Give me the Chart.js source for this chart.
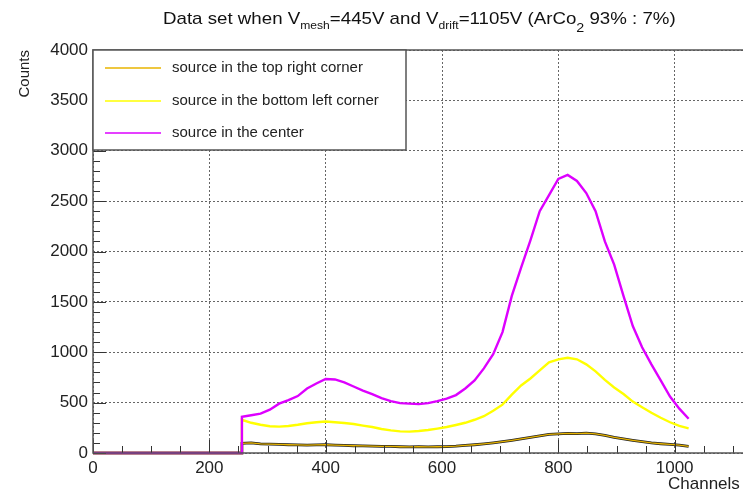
<!DOCTYPE html>
<html>
<head>
<meta charset="utf-8">
<script src="https://cdn.jsdelivr.net/npm/chart.js@4.4.0/dist/chart.umd.min.js"></script>
<style>
html, body { margin: 0; padding: 0; background: #fff; overflow: hidden; }
#wrap { position: relative; width: 743px; height: 492px; overflow: hidden; }
#title { position: absolute; top: 9px; left: 163px; font: 17px "Liberation Sans", Arial, sans-serif; color: #111; white-space: nowrap; transform: scaleX(1.1); transform-origin: left top; }
#title sub { font-size: 11px; vertical-align: -5px; }
#title sub.low { font-size: 13px; vertical-align: -8px; }
canvas { position: absolute; left: 0; top: 0; }
</style>
</head>
<body>
<div id="wrap">
  <canvas id="spectrum" width="820" height="492"></canvas>
  <div id="title">Data set when V<sub>mesh</sub>=445V and V<sub>drift</sub>=1105V (ArCo<sub class="low">2</sub> 93% : 7%)</div>
</div>
<script>
// Histogram channels (read every 16 channels, empty below 256)
const channels = [0, 255, 256, 272, 288, 304, 320, 336, 352, 368, 384, 400, 416, 432, 448, 464, 480, 496,
  512, 528, 544, 560, 576, 592, 608, 624, 640, 656, 672, 688, 704, 720, 736, 752, 768, 784, 800,
  816, 832, 848, 864, 880, 896, 912, 928, 944, 960, 976, 992, 1008, 1024];

const topRight = [0, 0, 95, 100, 90, 88, 85, 82, 80, 78, 80, 82, 78, 75, 72, 70, 68, 65,
  65, 62, 60, 62, 60, 62, 64, 68, 75, 82, 90, 100, 112, 125, 140, 155, 170, 185, 190,
  195, 192, 198, 190, 175, 155, 140, 125, 112, 100, 92, 85, 78, 65];

const bottomLeft = [0, 0, 330, 300, 280, 265, 262, 268, 280, 295, 305, 312, 305, 298, 288, 272, 258, 238,
  225, 215, 212, 218, 228, 242, 258, 278, 300, 330, 365, 420, 480, 580, 670, 740, 820, 900, 930,
  945, 930, 880, 810, 725, 650, 585, 510, 455, 400, 350, 305, 270, 245];

const center = [0, 0, 360, 375, 390, 430, 490, 525, 565, 640, 690, 735, 730, 700, 660, 620, 585, 545,
  515, 495, 490, 485, 495, 515, 540, 575, 640, 720, 840, 980, 1200, 1560, 1840, 2110, 2400, 2560, 2720,
  2760, 2700, 2580, 2400, 2100, 1870, 1560, 1260, 1050, 880, 720, 560, 440, 340];

const labels = ['source in the top right corner', 'source in the bottom left corner', 'source in the center'];
const colors = ['#e8b400', '#ffff00', '#dd00ff'];

const xTicks = { min: 0, max: 1200, major: 200, minor: 50 };
const yTicks = { min: 0, max: 4000, major: 500, minor: 100 };

function pts(vals) {
  return channels.map((c, i) => ({ x: c, y: vals[i] }));
}

const FONT = '"Liberation Sans", Arial, sans-serif';

// ROOT-like frame, inward ticks, legend box and axis titles
const rootFrame = {
  id: 'rootFrame',
  afterDatasetsDraw(chart) {
    const { ctx, chartArea: a, scales: { x, y } } = chart;
    ctx.save();

    ctx.strokeStyle = '#333';
    ctx.lineWidth = 1;
    ctx.beginPath();
    for (let v = yTicks.min; v <= yTicks.max; v += yTicks.minor) {
      const py = Math.round(y.getPixelForValue(v)) + 0.5;
      const len = v % yTicks.major === 0 ? 13 : 7;
      ctx.moveTo(a.left, py);
      ctx.lineTo(a.left + len, py);
    }
    for (let v = xTicks.min; v <= xTicks.max; v += xTicks.minor) {
      const px = Math.round(x.getPixelForValue(v)) + 0.5;
      const len = v % xTicks.major === 0 ? 13 : 7;
      ctx.moveTo(px, a.bottom);
      ctx.lineTo(px, a.bottom - len);
    }
    ctx.stroke();

    ctx.strokeStyle = '#555';
    ctx.lineWidth = 1.5;
    ctx.strokeRect(a.left, a.top, a.right - a.left, a.bottom - a.top);

    // legend
    const lx = a.left, ly = a.top, lw = 313, lh = 100;
    ctx.fillStyle = '#fff';
    ctx.fillRect(lx, ly, lw, lh);
    ctx.strokeRect(lx, ly, lw, lh);
    ctx.font = '15px ' + FONT;
    ctx.textBaseline = 'middle';
    labels.forEach((lab, i) => {
      const yy = Math.round(ly + 18 + i * 32.5);
      ctx.strokeStyle = colors[i];
      ctx.lineWidth = 1.5;
      ctx.beginPath();
      ctx.moveTo(lx + 12, yy);
      ctx.lineTo(lx + 68, yy);
      ctx.stroke();
      ctx.fillStyle = '#222';
      ctx.fillText(lab, lx + 79, yy);
    });

    // axis titles
    ctx.fillStyle = '#222';
    ctx.font = '15px ' + FONT;
    ctx.save();
    ctx.translate(25, a.top);
    ctx.rotate(-Math.PI / 2);
    ctx.textAlign = 'right';
    ctx.textBaseline = 'middle';
    ctx.fillText('Counts', 0, 0);
    ctx.restore();

    ctx.font = '17px ' + FONT;
    ctx.textAlign = 'left';
    ctx.textBaseline = 'alphabetic';
    ctx.fillText('Channels', 668, 489);

    ctx.restore();
  }
};

const common = { pointRadius: 0, tension: 0, fill: false, clip: 3 };

new Chart(document.getElementById('spectrum'), {
  type: 'line',
  data: {
    datasets: [
      { ...common, label: labels[0], data: pts(topRight), borderColor: colors[0], borderWidth: 1.3, order: 2 },
      { ...common, label: '', data: pts(topRight), borderColor: '#222', borderWidth: 2.8, order: 3 },
      { ...common, label: labels[1], data: pts(bottomLeft), borderColor: colors[1], borderWidth: 2.4, order: 1 },
      { ...common, label: labels[2], data: pts(center), borderColor: colors[2], borderWidth: 2.4, order: 0 }
    ]
  },
  options: {
    responsive: false,
    animation: false,
    devicePixelRatio: 1,
    layout: { padding: { top: 50, right: 29, left: 0, bottom: 0 } },
    plugins: { legend: { display: false }, tooltip: { enabled: false }, title: { display: false } },
    scales: {
      x: {
        type: 'linear',
        min: xTicks.min,
        max: xTicks.max,
        afterFit: s => { s.height = 39; },
        ticks: { stepSize: xTicks.major, padding: 5, color: '#222', font: { family: FONT, size: 17 }, callback: v => String(v) },
        grid: { color: '#666', drawTicks: false, lineWidth: 1 },
        border: { display: false, dash: [2, 2] }
      },
      y: {
        min: yTicks.min,
        max: yTicks.max,
        afterFit: s => { s.width = 93; },
        ticks: { stepSize: yTicks.major, padding: 5, color: '#222', font: { family: FONT, size: 17 }, callback: v => String(v) },
        grid: { color: '#666', drawTicks: false, lineWidth: 1 },
        border: { display: false, dash: [2, 2] }
      }
    }
  },
  plugins: [rootFrame]
});
</script>
</body>
</html>
